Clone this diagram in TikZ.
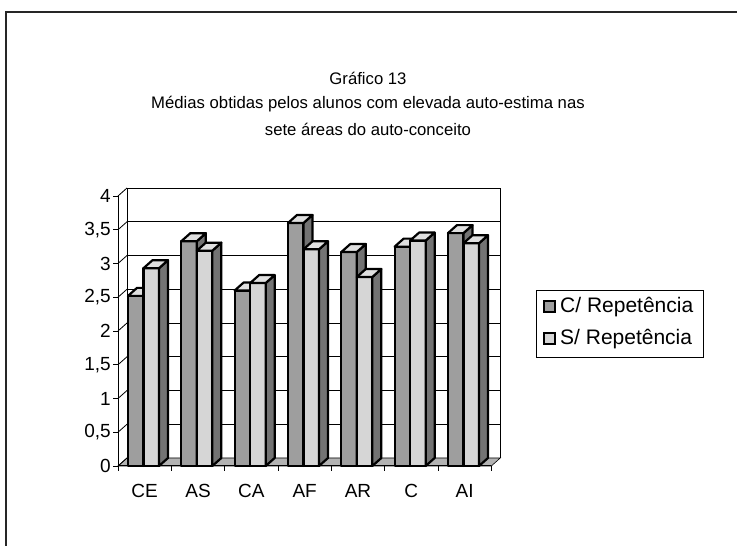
\documentclass[tikz,border=0pt]{standalone}
\usepackage{fontspec}
\setmainfont{Liberation Sans}
\usepackage{xcolor}
\usepackage{tikz}
\usetikzlibrary{positioning}
\tikzset{mybar/.style={draw=black, line width=2.2pt, line join=round}}
\tikzset{cfront/.style={fill=black!38}}
\tikzset{sfront/.style={fill=black!16}}
\tikzset{barside/.style={fill=black!55}}
\tikzset{bartop/.style={fill=black!12}}
\tikzset{ylabel/.style={anchor=east, inner sep=0pt, font=\fontsize{19}{22}\selectfont}}
\tikzset{catlabel/.style={inner sep=0pt, font=\fontsize{19}{22}\selectfont}}
\tikzset{titletext/.style={inner sep=0pt, font=\fontsize{16.7}{20}\selectfont}}
\tikzset{legtext/.style={anchor=west, inner sep=0pt, font=\fontsize{21}{24}\selectfont}}
\tikzset{legmark/.style={draw=black, line width=2pt, minimum size=11pt, inner sep=0pt}}
% one 3d bar: left edge, value, front style
\newcommand{\drawbar}[3]{%
  \pgfmathsetmacro{\ytop}{80+67.5*#2}
  \filldraw[mybar, #3] (#1,80) rectangle (#1+15.5,\ytop);
  \filldraw[mybar, barside] (#1+15.5,80) -- (#1+24.5,88) -- (#1+24.5,\ytop+8) -- (#1+15.5,\ytop) -- cycle;
  \filldraw[mybar, bartop] (#1,\ytop) -- (#1+9,\ytop+8) -- (#1+24.5,\ytop+8) -- (#1+15.5,\ytop) -- cycle;
}

\begin{document}
\begin{tikzpicture}[x=1pt, y=1pt]
    \useasboundingbox (0,0) rectangle (737,546);

    % frame
    \draw[black!85, line width=1.5pt] (6,0) -- (6,534) -- (737,534);

    % title
    \node[titletext] (T1) at (368,468) {Gráfico 13};
    \node[titletext] (T2) at (368,442) {Médias obtidas pelos alunos com elevada auto-estima nas};
    \node[titletext] (T3) at (368,417) {sete áreas do auto-conceito};

    % walls and floor
    \filldraw[fill=black!30, draw=black, line width=0.6pt] (118,80) -- (491.3,80) -- (500.3,88) -- (127,88) -- cycle;
    \draw[line width=0.8pt] (127,88) -- (127,358) -- (500.3,358) -- (500.3,88);
    \foreach \k in {1,...,7}
        \draw[line width=0.8pt] (127,88+33.75*\k) -- (500.3,88+33.75*\k);
    \foreach \k in {0,...,8}{
        \draw[line width=0.8pt] (118,80+33.75*\k) -- (127,88+33.75*\k);
        \draw[line width=0.8pt] (113,80+33.75*\k) -- (118,80+33.75*\k);
    }
    \draw[line width=1pt] (118,80) -- (118,350);
    \draw[line width=1pt] (118,80) -- (491.3,80);
    \foreach \i in {0,...,7}
        \draw[line width=0.8pt] (118+53.33*\i,80) -- (118+53.33*\i,75);

    % y axis labels
    \foreach \v/\t in {0/0, 0.5/{0,5}, 1/1, 1.5/{1,5}, 2/2, 2.5/{2,5}, 3/3, 3.5/{3,5}, 4/4}
        \node[ylabel] at (111,80+67.5*\v) {\t};

    % bars
    \foreach \cat/\cv/\sv [count=\i from 0] in {CE/2.52/2.93, AS/3.33/3.19, CA/2.6/2.71, AF/3.6/3.21, AR/3.17/2.8, C/3.25/3.34, AI/3.45/3.3}{
        \pgfmathsetmacro{\xc}{118+53.33*\i+10}
        \pgfmathsetmacro{\xs}{\xc+15.5}
        \drawbar{\xc}{\cv}{cfront}
        \drawbar{\xs}{\sv}{sfront}
        \node[catlabel] (cat\i) at (118+53.33*\i+26.67,55) {\cat};
    }

    % legend
    \draw[line width=0.8pt] (536,189) rectangle (703,256);
    \node[legmark, cfront] (M1) at (549,239) {};
    \node[legtext] (L1) at (560,239) {C/ Repetência};
    \node[legmark, sfront] (M2) at (549,207) {};
    \node[legtext] (L2) at (560,207) {S/ Repetência};

\end{tikzpicture}
\end{document}
